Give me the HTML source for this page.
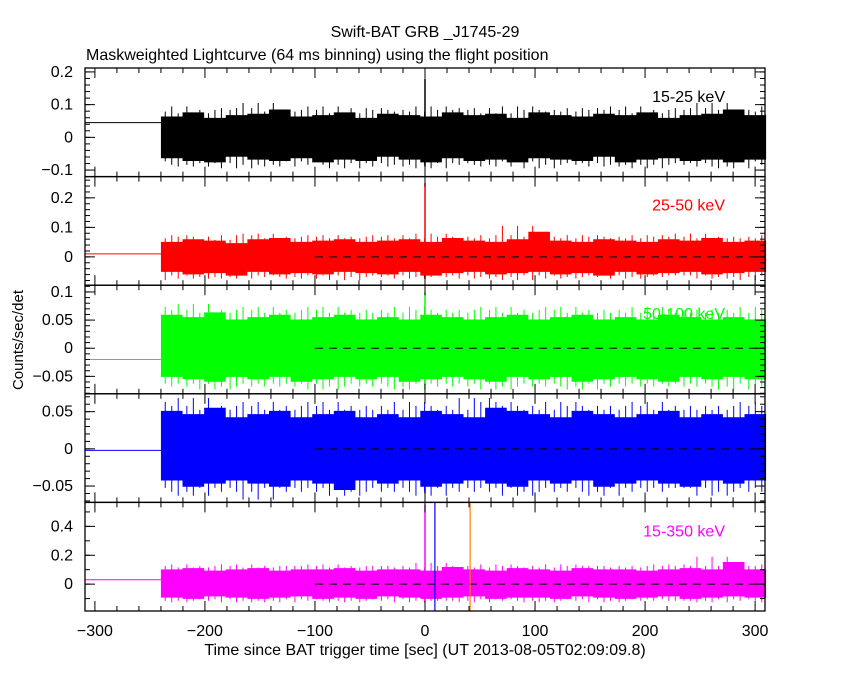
<!DOCTYPE html>
<html><head><meta charset="utf-8"><style>
html,body{margin:0;padding:0;background:#fff;}
svg{display:block;font-family:"Liberation Sans",sans-serif;}
</style></head><body>
<svg id="chart" width="850" height="680" viewBox="0 0 850 680" xmlns="http://www.w3.org/2000/svg">
<text x="425" y="37" text-anchor="middle" font-size="16">Swift-BAT GRB _J1745-29</text>
<text x="86" y="60" font-size="16">Maskweighted Lightcurve (64 ms binning) using the flight position</text>
<text transform="translate(23,340) rotate(-90)" text-anchor="middle" font-size="15">Counts/sec/det</text>
<text x="425" y="655" text-anchor="middle" font-size="16">Time since BAT trigger time [sec] (UT 2013-08-05T02:09:09.8)</text>
<g id="plots"></g>
</svg>
<script>
// ---- data ----
const bandLabels = ["15-25 keV","25-50 keV","50-100 keV","","15-350 keV"];
const bandColors = ["#000000","#ff0000","#00ff00","#0000ff","#ff00ff"];
const yMin = [-0.12,-0.096,-0.081,-0.072,-0.186];
const yMax = [0.212,0.272,0.112,0.074,0.566];
const yTicks1 = [-0.1,0,0.1,0.2];
const yTicks2 = [0,0.1,0.2];
const yTicks3 = [-0.05,0,0.05,0.1];
const yTicks4 = [-0.05,0,0.05];
const yTicks5 = [0,0.2,0.4];
const yTickLabels1 = ["\u22120.1","0","0.1","0.2"];
const yTickLabels2 = ["0","0.1","0.2"];
const yTickLabels3 = ["\u22120.05","0","0.05","0.1"];
const yTickLabels4 = ["\u22120.05","0","0.05"];
const yTickLabels5 = ["0","0.2","0.4"];
const xTicks = [-300,-200,-100,0,100,200,300];
const xTickLabels = ["\u2212300","\u2212200","\u2212100","0","100","200","300"];
const preLevel = [0.045,0.01,-0.02,-0.002,0.03];
const dataStart = -240, dataEnd = 310;
const hi1 = [0.075,0.09,0.07,0.08,0.085,0.1,0.075,0.08,0.09,0.07,0.085,0.08,0.075,0.09,0.08,0.085,0.07,0.09,0.08,0.075,0.085,0.08,0.09,0.07,0.08,0.085,0.1,0.08];
const lo1 = [-0.075,-0.085,-0.09,-0.07,-0.08,-0.085,-0.075,-0.09,-0.08,-0.085,-0.07,-0.08,-0.09,-0.075,-0.085,-0.08,-0.09,-0.075,-0.08,-0.085,-0.07,-0.09,-0.08,-0.075,-0.085,-0.08,-0.09,-0.08];
const hi2 = [0.06,0.07,0.065,0.055,0.07,0.075,0.06,0.065,0.07,0.06,0.065,0.07,0.06,0.075,0.065,0.06,0.07,0.1,0.065,0.06,0.07,0.065,0.06,0.07,0.065,0.075,0.06,0.065];
const lo2 = [-0.06,-0.07,-0.065,-0.075,-0.06,-0.07,-0.065,-0.07,-0.06,-0.065,-0.07,-0.06,-0.075,-0.065,-0.06,-0.07,-0.065,-0.06,-0.07,-0.065,-0.075,-0.06,-0.07,-0.065,-0.06,-0.07,-0.065,-0.06];
const hi3 = [0.07,0.065,0.075,0.06,0.065,0.07,0.06,0.065,0.07,0.06,0.065,0.06,0.07,0.065,0.06,0.065,0.07,0.06,0.065,0.07,0.06,0.065,0.06,0.07,0.065,0.06,0.065,0.06];
const lo3 = [-0.06,-0.065,-0.07,-0.06,-0.065,-0.06,-0.07,-0.065,-0.06,-0.065,-0.06,-0.07,-0.065,-0.06,-0.065,-0.07,-0.06,-0.065,-0.06,-0.07,-0.065,-0.06,-0.065,-0.07,-0.06,-0.065,-0.06,-0.065];
const hi4 = [0.06,0.055,0.065,0.05,0.055,0.06,0.05,0.055,0.06,0.05,0.055,0.05,0.06,0.055,0.05,0.065,0.06,0.055,0.05,0.06,0.055,0.05,0.055,0.06,0.05,0.055,0.05,0.055];
const lo4 = [-0.05,-0.06,-0.055,-0.05,-0.055,-0.06,-0.05,-0.055,-0.065,-0.05,-0.055,-0.05,-0.06,-0.055,-0.05,-0.055,-0.06,-0.05,-0.055,-0.05,-0.06,-0.055,-0.05,-0.055,-0.06,-0.05,-0.055,-0.05];
const hi5 = [0.12,0.13,0.11,0.12,0.13,0.11,0.12,0.12,0.13,0.11,0.12,0.12,0.11,0.14,0.12,0.11,0.13,0.12,0.11,0.13,0.12,0.12,0.11,0.12,0.13,0.12,0.18,0.12];
const lo5 = [-0.11,-0.12,-0.1,-0.11,-0.12,-0.11,-0.1,-0.12,-0.11,-0.12,-0.1,-0.11,-0.12,-0.11,-0.1,-0.12,-0.11,-0.11,-0.12,-0.1,-0.11,-0.12,-0.11,-0.1,-0.12,-0.11,-0.1,-0.11];
const spikePeak = [0.18,0.25,0.1,0.04,0.55];
const markerTimes = [9,41];
const markerColors = ["#0000ff","#ff8000"];

const his=[hi1,hi2,hi3,hi4,hi5], los=[lo1,lo2,lo3,lo4,lo5];
const yTicks=[yTicks1,yTicks2,yTicks3,yTicks4,yTicks5];
const yTickLabels=[yTickLabels1,yTickLabels2,yTickLabels3,yTickLabels4,yTickLabels5];
const yMinorStep=[0.02,0.02,0.01,0.01,0.1];
const coreScale=0.85;

const L=85,R=765,T=68,PH=108.6,tMin=-309,tMax=309;
const NS="http://www.w3.org/2000/svg";
const g=document.getElementById('plots');
function xs(t){return L+(t-tMin)/(tMax-tMin)*(R-L);}
function mk(tag,attrs,parent){const e=document.createElementNS(NS,tag);for(const k in attrs)e.setAttribute(k,attrs[k]);(parent||g).appendChild(e);return e;}

for(let p=0;p<5;p++){
  const top=T+p*PH,bot=top+PH;
  const ys=v=>bot-(v-yMin[p])/(yMax[p]-yMin[p])*PH;
  const pg=mk('g',{});
  
  
  const c=bandColors[p];
  const fl=mk('line',{x1:L,x2:xs(dataStart),y1:ys(preLevel[p]),y2:ys(preLevel[p]),stroke:c,'stroke-width':1},pg);
  
  
  const n=his[p].length,step=(dataEnd-dataStart)/n;
  let pts=[];
  for(let i=0;i<n;i++){const t0=dataStart+i*step;pts.push(xs(t0)+','+ys(his[p][i]*coreScale));pts.push(xs(t0+step)+','+ys(his[p][i]*coreScale));}
  for(let i=n-1;i>=0;i--){const t0=dataStart+i*step;pts.push(xs(t0+step)+','+ys(los[p][i]*coreScale));pts.push(xs(t0)+','+ys(los[p][i]*coreScale));}
  const band=mk('polygon',{points:pts.join(' '),fill:c,stroke:'none'},pg);
  
  
  for(let i=0;i<n;i++){
    for(let k=0;k<3;k++){
      const tm=dataStart+(i+0.2+k*0.3)*step;
      const sp=mk('line',{x1:xs(tm),x2:xs(tm),y1:ys(his[p][(i+k)%n]*1.05),y2:ys(los[p][(i+3+k)%n]*1.05),stroke:c,'stroke-width':1},pg);
      
      
    }
  }
  const ts=mk('line',{x1:xs(0),x2:xs(0),y1:ys(spikePeak[p]),y2:ys(los[p][12]),stroke:c,'stroke-width':1.5},pg);
  
  
  if(p>0){const dz=mk('line',{x1:xs(-100),x2:R,y1:ys(0),y2:ys(0),stroke:'#000','stroke-width':1,'stroke-dasharray':'8,6'},pg);
    
    }
  if(p===4){for(let m=0;m<markerTimes.length;m++){
    const ml=mk('line',{x1:xs(markerTimes[m]),x2:xs(markerTimes[m]),y1:top,y2:bot,stroke:markerColors[m],'stroke-width':1.2},pg);
    
    }}
  const fr=mk('rect',{x:L,y:top,width:R-L,height:PH,fill:'none',stroke:'#000','stroke-width':1.3},pg);
  
  
  for(let t=-300;t<=300;t+=20){const len=(t%100===0)?10:5;
    mk('line',{x1:xs(t),x2:xs(t),y1:top,y2:top+len,stroke:'#000'},pg);
    mk('line',{x1:xs(t),x2:xs(t),y1:bot,y2:bot-len,stroke:'#000'},pg);}
  const ms=yMinorStep[p];
  for(let v=Math.ceil(yMin[p]/ms)*ms;v<=yMax[p];v+=ms){const y=ys(v);
    mk('line',{x1:L,x2:L+5,y1:y,y2:y,stroke:'#000'},pg);mk('line',{x1:R,x2:R-5,y1:y,y2:y,stroke:'#000'},pg);}
  yTicks[p].forEach((v,i)=>{const y=ys(v);
    mk('line',{x1:L,x2:L+10,y1:y,y2:y,stroke:'#000'},pg);mk('line',{x1:R,x2:R-10,y1:y,y2:y,stroke:'#000'},pg);
    const tl=mk('text',{x:L-12,y:y+5,'text-anchor':'end','font-size':16},pg);tl.textContent=yTickLabels[p][i];
    
    });
  if(bandLabels[p]){const bl=mk('text',{x:725,y:top+34,'text-anchor':'end','font-size':16,fill:c},pg);bl.textContent=bandLabels[p];
    
    }
}
const botY=T+5*PH;
xTicks.forEach((t,i)=>{const tl=mk('text',{x:xs(t),y:botY+25,'text-anchor':'middle','font-size':16});tl.textContent=xTickLabels[i];
  
  });
</script>
</body></html>
